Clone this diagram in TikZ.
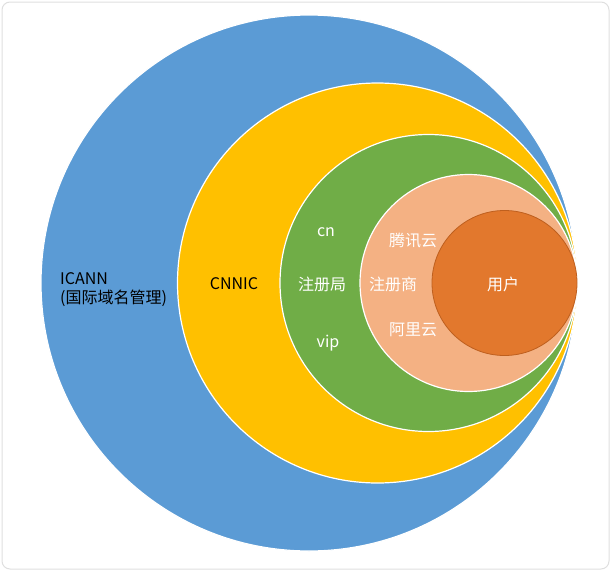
\documentclass[tikz,border=0pt]{standalone}
\usepackage{fontspec}
\setmainfont{Noto Sans CJK SC}
\begin{document}
\begin{tikzpicture}[x=1pt,y=-1pt,
  ring/.style={draw=white,line width=1.2pt},
  lab/.style={text=white,font=\fontsize{16}{19}\selectfont,inner sep=0pt}]
\useasboundingbox (0,0) rectangle (611,571);
\draw[gray!25,line width=1pt,rounded corners=8pt] (2,2) rectangle (609,569);
\fill[ring,fill={rgb,255:red,91;green,155;blue,213}] (309,283) circle (268);
\fill[ring,fill={rgb,255:red,255;green,192;blue,0}] (377.5,283) circle (200);
\fill[ring,fill={rgb,255:red,112;green,173;blue,71}] (428.5,283) circle (148.5);
\fill[ring,fill={rgb,255:red,244;green,177;blue,131}] (468.5,283) circle (108.5);
\filldraw[draw={rgb,255:red,190;green,95;blue,30},line width=0.8pt,fill={rgb,255:red,226;green,120;blue,45}] (504.5,283) circle (72.5);
\node[lab,text=black,align=left,anchor=west] (icann) at (60,290) {ICANN\\(国际域名管理)};
\node[lab,text=black] (cnnic) at (234,284) {CNNIC};
\node[lab] (cn) at (326,232) {cn};
\node[lab] (reg) at (322,284) {注册局};
\node[lab] (vip) at (328,343) {vip};
\node[lab] (tx) at (413,241) {腾讯云};
\node[lab] (rs) at (393,284) {注册商};
\node[lab] (ali) at (413,330) {阿里云};
\node[lab] (user) at (503,284) {用户};
\end{tikzpicture}
\end{document}
